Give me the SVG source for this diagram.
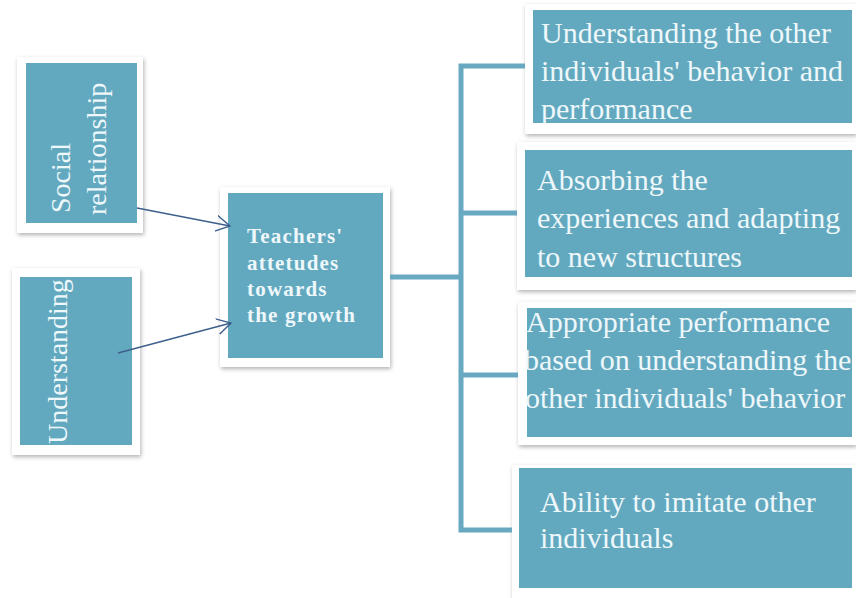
<svg xmlns="http://www.w3.org/2000/svg" width="856" height="598" viewBox="0 0 856 598">
<style>
.card{fill:#ffffff;filter:url(#sh);}
.box{fill:#62a9c0;}
.t{font-family:"Liberation Serif","Times New Roman",serif;fill:#eef7fa;font-size:30px;}
.tv{font-family:"Liberation Serif","Times New Roman",serif;fill:#eef7fa;font-size:28px;}
.tc{font-family:"Liberation Serif","Times New Roman",serif;fill:#eef7fa;font-size:21px;font-weight:bold;letter-spacing:1.2px;}
.tree{fill:none;stroke:#68a8c0;stroke-width:5;}
.arr{fill:none;stroke:#3d5f8c;stroke-width:1.4;marker-end:url(#ah);}
</style>
<defs>
<filter id="sh" x="-10%" y="-10%" width="120%" height="120%">
<feDropShadow dx="1" dy="2" stdDeviation="2" flood-color="#000" flood-opacity="0.3"/>
</filter>
<marker id="ah" markerUnits="userSpaceOnUse" markerWidth="20" markerHeight="20" refX="14" refY="8" orient="auto" viewBox="0 0 20 16">
<path d="M0,0 L14,8 L0,16" fill="none" stroke="#3d5f8c" stroke-width="1.4"/>
</marker>
<clipPath id="c1"><rect x="533" y="10" width="319" height="113"/></clipPath>
<clipPath id="c3"><rect x="524" y="308" width="328" height="129"/></clipPath>
<clipPath id="cu"><rect x="20" y="277" width="112" height="168"/></clipPath>
</defs>
<rect width="856" height="598" fill="#ffffff"/>

<g id="social">
<rect class="card" x="17" y="57" width="126" height="176"/>
<rect class="box" x="26" y="63" width="111" height="160"/>
<text class="tv" transform="translate(70,213) rotate(-90)">Social</text>
<text class="tv" transform="translate(106,215) rotate(-90)">relationship</text>
</g>

<g id="understanding">
<rect class="card" x="12" y="268" width="128" height="187"/>
<rect class="box" x="20" y="277" width="112" height="168"/>
<g clip-path="url(#cu)">
<text class="tv" transform="translate(67,444) rotate(-90)">Understanding</text>
</g>
</g>

<g id="center">
<rect class="card" x="220" y="187" width="170" height="180"/>
<rect class="box" x="228" y="193" width="155" height="165"/>
<text class="tc" x="247" y="243">Teachers'</text>
<text class="tc" x="247" y="270">attetudes</text>
<text class="tc" x="247" y="296">towards</text>
<text class="tc" x="247" y="322">the growth</text>
</g>

<g id="r1">
<rect class="card" x="525" y="4" width="331" height="130"/>
<rect class="box" x="533" y="10" width="319" height="113"/>
<g clip-path="url(#c1)">
<text class="t" x="541" y="43">Understanding the other</text>
<text class="t" x="541" y="81">individuals' behavior and</text>
<text class="t" x="541" y="119">performance</text>
</g>
</g>

<g id="r2">
<rect class="card" x="517" y="142" width="339" height="148"/>
<rect class="box" x="525" y="150" width="327" height="127"/>
<text class="t" x="537" y="190">Absorbing the</text>
<text class="t" x="537" y="228">experiences and adapting</text>
<text class="t" x="537" y="267">to new structures</text>
</g>

<g id="r3">
<rect class="card" x="518" y="302" width="338" height="143"/>
<rect class="box" x="527" y="308" width="325" height="129"/>
<g clip-path="url(#c3)">
<text class="t" x="526" y="332">Appropriate performance</text>
<text class="t" x="524" y="370">based on understanding the</text>
<text class="t" x="525" y="408">other individuals' behavior</text>
</g>
</g>

<g id="r4">
<rect class="card" x="512" y="465" width="344" height="135"/>
<rect class="box" x="519" y="468" width="333" height="120"/>
<text class="t" x="540" y="512">Ability to imitate other</text>
<text class="t" x="540" y="548">individuals</text>
</g>

<g id="connectors">
<path class="tree" d="M390,277 H459"/>
<path class="tree" d="M525,66 H461 V530 H512"/>
<path class="tree" d="M460,213 H517"/>
<path class="tree" d="M459,375 H518"/>
<path class="arr" d="M137,208 L230,226"/>
<path class="arr" d="M118,353 L231,323"/>
</g>
</svg>
